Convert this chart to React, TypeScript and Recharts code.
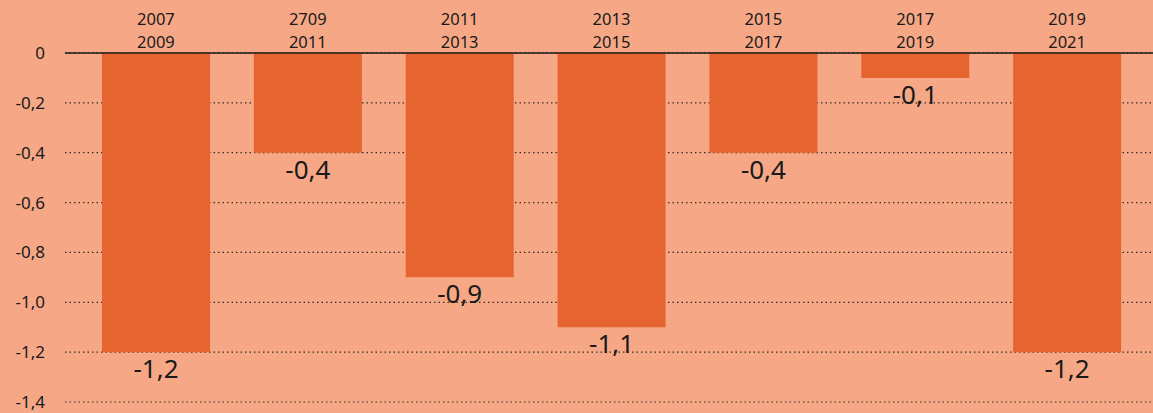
import { Bar, BarChart, CartesianGrid, LabelList, XAxis, YAxis } from 'recharts';

const periodStart = ['2007', '2709', '2011', '2013', '2015', '2017', '2019'];
const periodEnd = ['2009', '2011', '2013', '2015', '2017', '2019', '2021'];
const change = [-1.2, -0.4, -0.9, -1.1, -0.4, -0.1, -1.2];
const yTicks = [0, -0.2, -0.4, -0.6, -0.8, -1.0, -1.2, -1.4];

const data = periodStart.map((start, i) => ({
  name: `${start}\n${periodEnd[i]}`,
  value: change[i],
}));

if (typeof document !== 'undefined') {
  document.body.style.margin = '0';
}

const FONT = '"Noto Sans", sans-serif';
const fmt = (v: number) => (v === 0 ? '0' : v.toFixed(1).replace('.', ','));

const PeriodTick = ({ x, y, payload }: any) => {
  const [a, b] = String(payload.value).split('\n');
  return (
    <g>
      <text x={x} y={y - 28} textAnchor="middle" fontSize={16.5} fill="#1a1a1a" fontFamily={FONT}>
        {a}
      </text>
      <text x={x} y={y - 5} textAnchor="middle" fontSize={16.5} fill="#1a1a1a" fontFamily={FONT}>
        {b}
      </text>
    </g>
  );
};

const ValueLabel = ({ x, y, width, height, value }: any) => {
  const bottom = Math.max(y, y + height);
  return (
    <text
      x={x + width / 2}
      y={bottom + 26}
      textAnchor="middle"
      fontSize={26}
      fill="#1a1a1a"
      fontFamily={FONT}
    >
      {fmt(value)}
    </text>
  );
};

const App = () => {
  return (
    <div style={{ width: 1153, height: 413, background: '#F6A886', overflow: 'hidden' }}>
      <BarChart
        width={1153}
        height={413}
        data={data}
        margin={{ top: 0, right: 0, bottom: 11, left: 0 }}
      >
        <CartesianGrid
          vertical={false}
          stroke="#3a2a20"
          strokeDasharray="1.5 3"
          strokeWidth={1.2}
        />
        <XAxis
          dataKey="name"
          orientation="top"
          height={53}
          tick={<PeriodTick />}
          tickLine={false}
          tickSize={0}
          tickMargin={0}
          interval={0}
          axisLine={{ stroke: '#1a1a1a', strokeWidth: 1.5 }}
          padding={{ left: 15, right: 10 }}
        />
        <YAxis
          domain={[-1.4, 0]}
          ticks={yTicks}
          tickFormatter={fmt}
          width={65}
          axisLine={false}
          tickLine={false}
          tickSize={0}
          tickMargin={20}
          tick={{ fontSize: 17, fill: '#1a1a1a', fontFamily: FONT }}
        />
        <Bar dataKey="value" fill="#E5642F" barSize={108} isAnimationActive={false}>
          <LabelList dataKey="value" content={<ValueLabel />} />
        </Bar>
      </BarChart>
    </div>
  );
};

export default App;
